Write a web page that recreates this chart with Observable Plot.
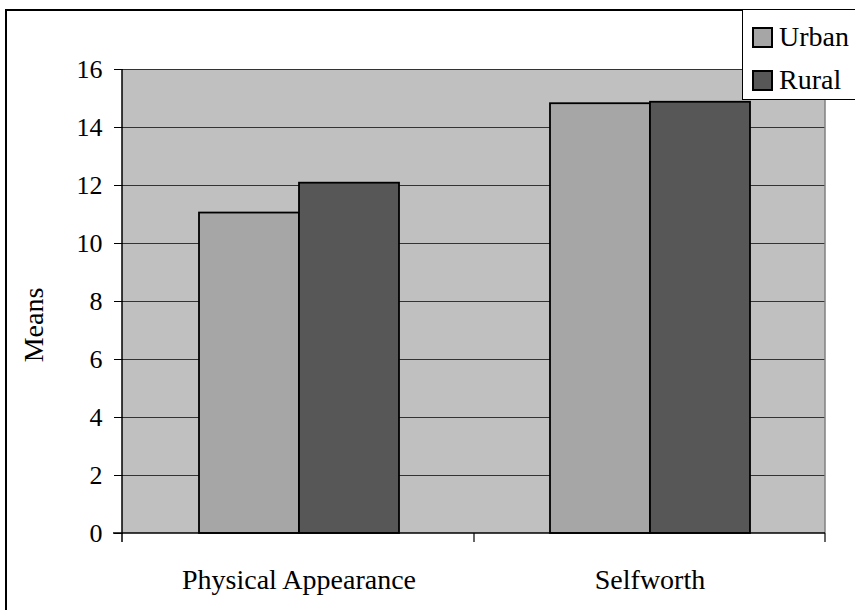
<!DOCTYPE html>
<html>
<head>
<meta charset="utf-8">
<script src="https://cdn.jsdelivr.net/npm/d3@7"></script>
<script src="https://cdn.jsdelivr.net/npm/@observablehq/plot@0.6"></script>
<style>
  html, body { margin: 0; padding: 0; background: #fff; overflow: hidden; }
  #wrap { position: relative; width: 855px; height: 610px; overflow: hidden; font-family: "Liberation Serif", "Times New Roman", serif; }
  #wrap svg.chart { position: absolute; left: 0; top: 0; }
  #outer { position: absolute; left: 5px; top: 9px; width: 1000px; height: 1000px; border: 2px solid #000; box-sizing: border-box; }
  #legend { position: absolute; left: 742px; top: 9px; width: 130px; height: 91px; border: 1.5px solid #000; background: #fff; box-sizing: border-box; }
  .item { position: absolute; left: 9px; display: flex; align-items: center; font-size: 28px; color: #000; line-height: 1; }
  .sw { width: 17px; height: 17px; border: 2px solid #000; margin-right: 6px; }
</style>
</head>
<body>
<div id="wrap"><div id="outer"></div></div>
<script>
const categories = ["Physical Appearance", "Selfworth"];
const groups = ["Urban", "Rural"];
const urbanMeans = [11.05, 14.82];
const ruralMeans = [12.08, 14.87];
const yTicks = [0, 2, 4, 6, 8, 10, 12, 14, 16];
const groupColors = ["#a6a6a6", "#575757"];
const yLabel = "Means";

const data = [];
categories.forEach((c, i) => {
  data.push({category: c, group: groups[0], value: urbanMeans[i]});
  data.push({category: c, group: groups[1], value: ruralMeans[i]});
});

const chart = Plot.plot({
  width: 855,
  height: 610,
  marginLeft: 122,
  marginRight: 30,
  marginTop: 69,
  marginBottom: 77,
  style: {fontFamily: "Liberation Serif, Times New Roman, serif", fontSize: "26px", color: "#000", background: "transparent", overflow: "visible"},
  fx: {domain: categories, padding: 0},
  x: {domain: groups, paddingInner: 0, paddingOuter: 0.74},
  y: {domain: [0, 16]},
  color: {domain: groups, range: groupColors},
  marks: [
    Plot.axisFx({anchor: "bottom", tickSize: 0, tickPadding: 36, fontSize: 28, label: null}),
    Plot.axisX({ticks: [], label: null, tickSize: 0}),
    Plot.axisY({ticks: yTicks, tickSize: 9, tickPadding: 12, fontSize: 26, label: null}),
    Plot.ruleY(yTicks.filter(d => d > 0), {stroke: "#333", strokeWidth: 1}),
    Plot.barY(data, {fx: "category", x: "group", y: "value", fill: "group", stroke: "#000", strokeWidth: 1.8})
  ]
});
chart.classList.add("chart");
document.getElementById("wrap").appendChild(chart);

// plot background, axis lines and category boundary ticks from the library's scales
const svg = d3.select(chart);
const fx = chart.scale("fx");
const y = chart.scale("y");
const [x0, x1] = [fx.range[0], fx.range[1]];
const y0 = y.apply(0), yTop = y.apply(16);
svg.insert("rect", ":first-child")
  .attr("x", x0).attr("y", yTop).attr("width", x1 - x0).attr("height", y0 - yTop)
  .attr("fill", "#c0c0c0");
const g = svg.append("g");
g.append("line").attr("x1", x1).attr("x2", x1).attr("y1", yTop).attr("y2", y0).attr("stroke", "#808080").attr("stroke-width", 1.5);
g.append("line").attr("x1", x0).attr("x2", x0).attr("y1", yTop).attr("y2", y0 + 9).attr("stroke", "#000").attr("stroke-width", 1.5);
g.append("line").attr("x1", x0 - 9).attr("x2", x1).attr("y1", y0).attr("y2", y0).attr("stroke", "#000").attr("stroke-width", 1.5);
categories.forEach(c => {
  const xe = fx.apply(c) + fx.bandwidth;
  g.append("line").attr("x1", xe).attr("x2", xe).attr("y1", y0).attr("y2", y0 + 9).attr("stroke", "#000").attr("stroke-width", 1.2);
});
g.append("text")
  .attr("transform", `translate(${x0 - 89},${(yTop + y0) / 2 + 24}) rotate(-90)`)
  .attr("text-anchor", "middle").attr("dy", "0.35em")
  .attr("font-size", 28).attr("fill", "#000")
  .text(yLabel);

// legend
const legend = d3.select("#wrap").append("div").attr("id", "legend");
groups.forEach((grp, i) => {
  const it = legend.append("div").attr("class", "item").style("top", (i === 0 ? 13 : 56) + "px");
  it.append("div").attr("class", "sw").style("background", groupColors[i]);
  it.append("span").text(grp);
});
</script>
</body>
</html>
